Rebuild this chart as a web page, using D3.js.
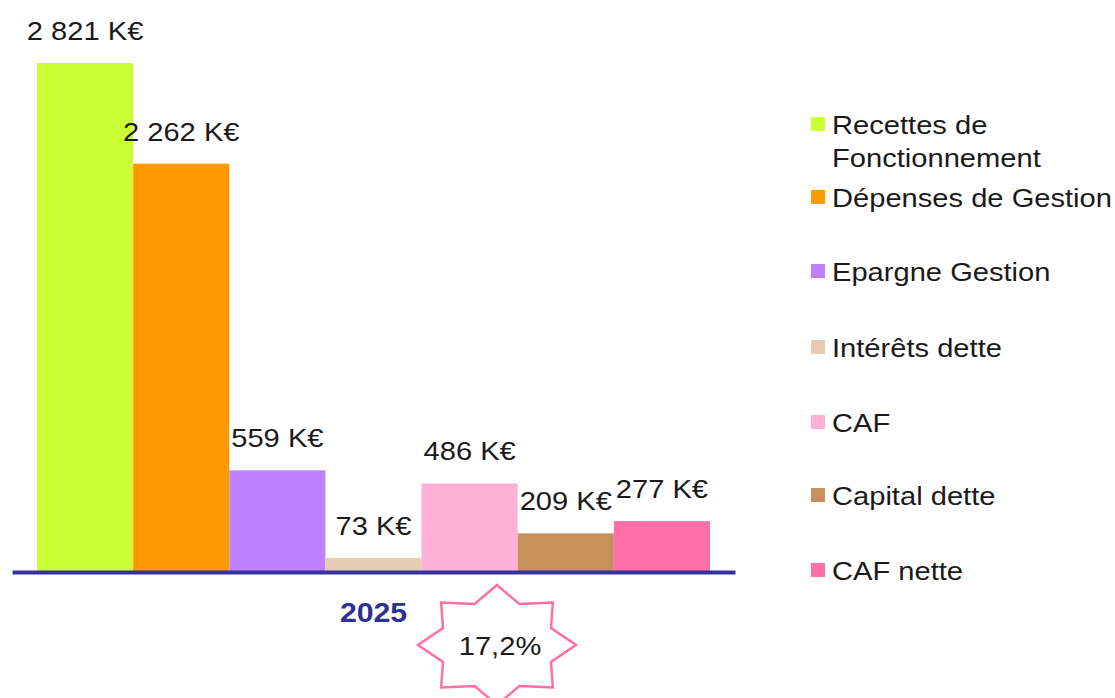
<!DOCTYPE html>
<html>
<head>
<meta charset="utf-8">
<script src="https://cdn.jsdelivr.net/npm/d3@7"></script>
<style>
  body { margin: 0; background: #fff; }
  svg { display: block; font-family: "Liberation Sans", Arial, sans-serif; }
</style>
</head>
<body>
<script>
// data
var years = ["2025"];
var categories = ["Recettes de Fonctionnement", "Dépenses de Gestion", "Epargne Gestion",
  "Intérêts dette", "CAF", "Capital dette", "CAF nette"];
var values = [2821, 2262, 559, 73, 486, 209, 277];
var colors = ["#ccff33", "#ff9900", "#bf80ff", "#e6ccb3", "#ffb0d4", "#c8905a", "#ff70a6"];
var ratioLabel = "17,2%";

var width = 1115, height = 698;
var sx = 1.12; // text is drawn a bit wide in the original

var fr = d3.formatLocale({decimal: ",", thousands: " ", grouping: [3], currency: ["", " K€"]});
var fmt = fr.format(",d");

var svg = d3.select("body").append("svg")
    .attr("width", width)
    .attr("height", height);

var x0 = d3.scaleBand(years, [12, 735]);
var x = d3.scaleBand(categories, [37, 710]);
var y = d3.scaleLinear().domain([0, 2821]).range([571, 63]);

// bars
svg.selectAll(".bar")
    .data(values)
  .enter().append("rect")
    .attr("class", "bar")
    .attr("x", function(d, i) { return x(categories[i]); })
    .attr("width", x.bandwidth())
    .attr("y", function(d) { return y(d); })
    .attr("height", function(d) { return y(0) - y(d); })
    .attr("fill", function(d, i) { return colors[i]; });

// value labels
svg.selectAll(".lbl")
    .data(values)
  .enter().append("text")
    .attr("class", "lbl")
    .attr("transform", function(d, i) {
      return "translate(" + (x(categories[i]) + x.bandwidth() / 2) + "," + (y(d) - 23) + ") scale(" + sx + ",1)";
    })
    .attr("text-anchor", "middle")
    .style("font-size", "26px")
    .attr("fill", "#1a1a1a")
    .text(function(d) { return fmt(d) + " K€"; });

// x axis
var xAxis = d3.axisBottom(x0).tickSize(0).tickSizeOuter(0);
var gx = svg.append("g")
    .attr("transform", "translate(0," + 572 + ")")
    .call(xAxis);
gx.select(".domain").attr("stroke", "#333399").attr("stroke-width", 4);
gx.selectAll(".tick text")
    .attr("fill", "#2e3192")
    .style("font-size", "28px")
    .style("font-weight", "bold")
    .style("font-family", "'Liberation Sans', Arial, sans-serif")
    .attr("y", 0)
    .attr("dy", 0)
    .attr("transform", "translate(0,50) scale(1.08,1)");

// star with ratio
var cx = 497, cy = 645, rx = 79, ry = 60, inner = 0.74;
var pts = d3.range(16).map(function(k) {
  var a = k * Math.PI / 8;
  var r = k % 2 === 0 ? 1 : inner;
  return [cx + Math.sin(a) * rx * r, cy - Math.cos(a) * ry * r];
});
svg.append("path")
    .attr("d", d3.line()(pts) + "Z")
    .attr("fill", "#fff")
    .attr("stroke", "#ff6fa5")
    .attr("stroke-width", 2.5)
    .attr("stroke-linejoin", "miter");
svg.append("text")
    .attr("transform", "translate(" + (cx + 3) + "," + (cy + 10) + ") scale(" + sx + ",1)")
    .attr("text-anchor", "middle")
    .style("font-size", "26px")
    .attr("fill", "#1a1a1a")
    .text(ratioLabel);

// legend
var legendY = [134, 207, 281, 357, 432, 505, 580];
var leg = svg.selectAll(".leg")
    .data(categories)
  .enter().append("g")
    .attr("class", "leg")
    .attr("transform", function(d, i) { return "translate(811," + legendY[i] + ")"; });

leg.append("rect")
    .attr("x", 0)
    .attr("y", -17)
    .attr("width", 14)
    .attr("height", 14)
    .attr("fill", function(d, i) { return colors[i]; });

leg.each(function(d, i) {
  var lines = i === 0 ? ["Recettes de", "Fonctionnement"] : [d];
  var g = d3.select(this);
  lines.forEach(function(t, j) {
    g.append("text")
      .attr("transform", "translate(21," + (j * 33) + ") scale(" + sx + ",1)")
      .style("font-size", "26px")
      .attr("fill", "#1a1a1a")
      .text(t);
  });
});
</script>
</body>
</html>
